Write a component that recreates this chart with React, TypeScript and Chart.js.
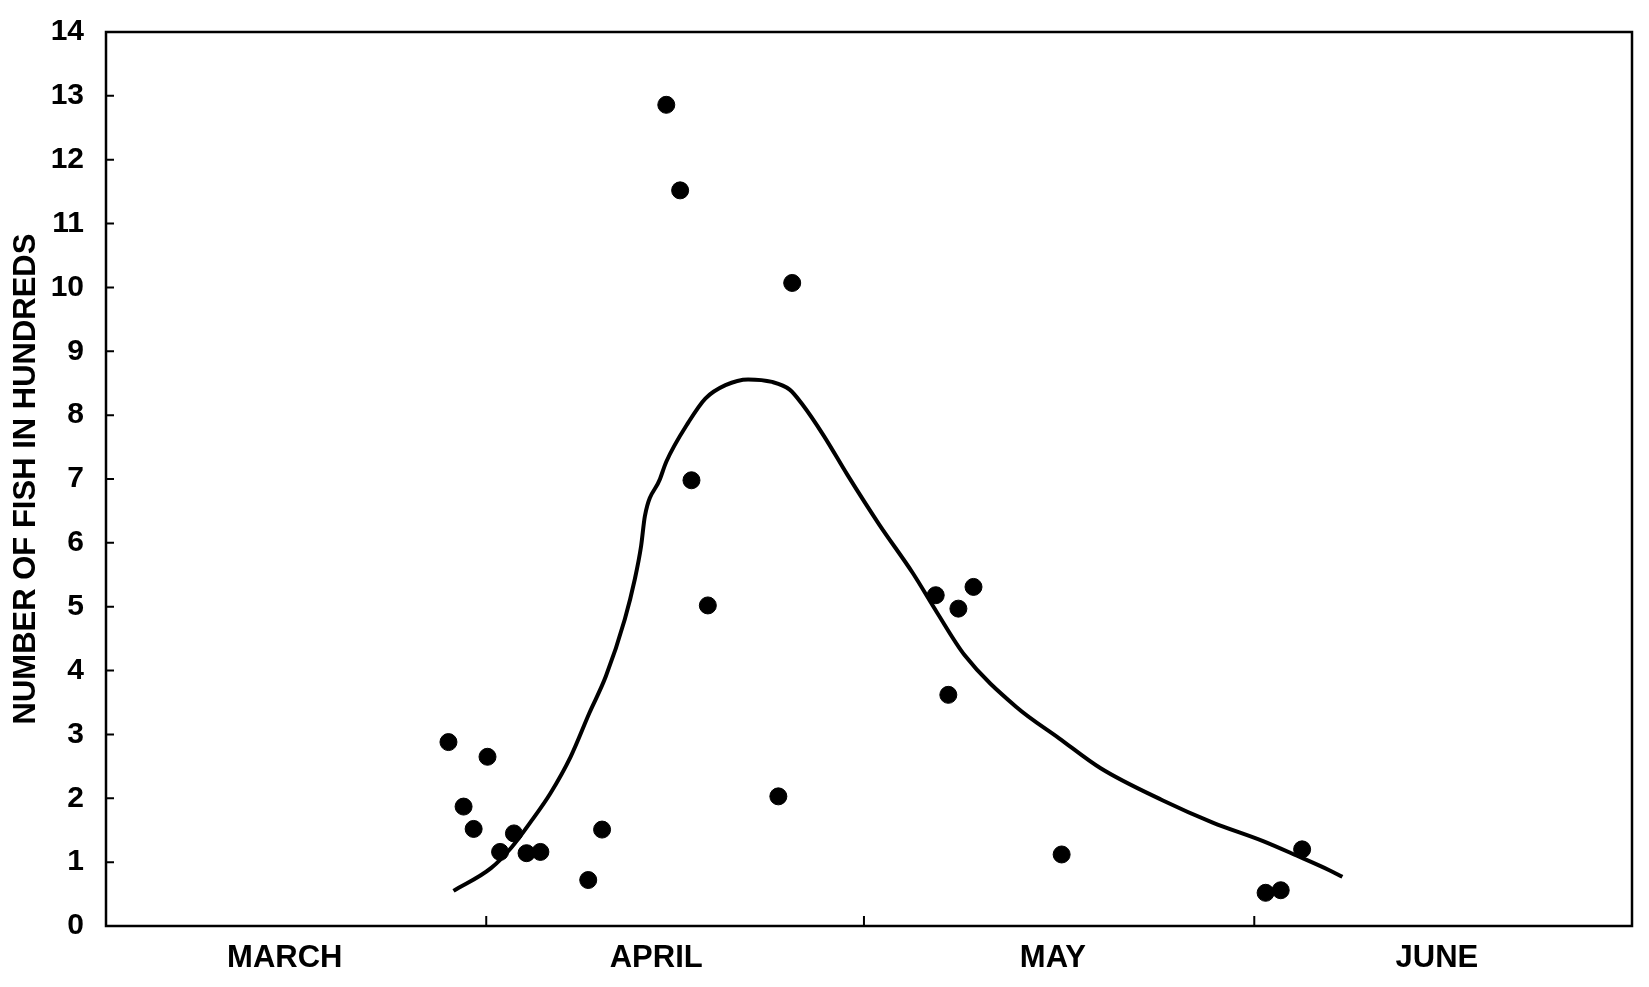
import React, { useEffect, useRef } from 'react';
import { Chart, registerables } from 'chart.js';

Chart.register(...registerables);

// Month labels (x axis, day counted from 1 March)
const MONTHS = ['MARCH', 'APRIL', 'MAY', 'JUNE'];
const MONTH_LABEL_DAYS = [15, 44.5, 76, 106.5];
const MONTH_BOUNDARY_DAYS = [31, 61, 92];
const Y_TICK_MARKS = [1, 2, 3, 4, 5, 6, 7, 8, 9, 10, 11, 12, 13];

// Observed catches (number of fish, hundreds)
const OBS_DAY = [28.0, 29.2, 30.0, 31.1, 32.1, 33.2, 34.2, 35.3, 39.1, 40.2, 45.3, 46.4, 47.3, 48.6, 54.2, 55.3, 66.7, 67.7, 68.5, 69.7, 76.7, 92.9, 94.1, 95.8];
const OBS_FISH = [2.88, 1.87, 1.52, 2.65, 1.16, 1.45, 1.14, 1.16, 0.72, 1.51, 12.86, 11.52, 6.98, 5.02, 2.03, 10.07, 5.18, 3.62, 4.97, 5.31, 1.12, 0.52, 0.56, 1.2];

// Fitted curve
const CURVE_DAY = [28.4, 31.4, 33.0, 34.6, 36.1, 37.7, 39.2, 40.5, 42.0, 42.8, 43.3, 43.6, 44.8, 45.3, 47.1, 48.4, 50.0, 51.8, 53.7, 55.1, 56.1, 57.8, 59.7, 62.2, 64.9, 66.8, 69.0, 73.1, 76.5, 79.8, 84.7, 88.7, 92.7, 95.4, 98.0, 99.0];
const CURVE_FISH = [0.55, 0.91, 1.23, 1.65, 2.08, 2.65, 3.34, 3.91, 4.8, 5.43, 5.95, 6.42, 7.0, 7.27, 7.9, 8.26, 8.47, 8.56, 8.52, 8.4, 8.17, 7.68, 7.06, 6.29, 5.52, 4.91, 4.24, 3.43, 2.94, 2.47, 1.97, 1.62, 1.33, 1.1, 0.87, 0.77];

const FONT = '"Liberation Sans", Arial, Helvetica, sans-serif';

const framePlugin = {
  id: 'frame',
  beforeDatasetsDraw(chart: any) {
    const { ctx, chartArea, scales } = chart;
    const { left, right, top, bottom } = chartArea;
    ctx.save();
    ctx.strokeStyle = '#000';
    ctx.lineWidth = 2.5;
    ctx.strokeRect(left, top, right - left, bottom - top);
    ctx.lineWidth = 2;
    ctx.beginPath();
    MONTH_BOUNDARY_DAYS.forEach((d) => {
      const px = scales.x.getPixelForValue(d);
      ctx.moveTo(px, bottom);
      ctx.lineTo(px, bottom - 10);
    });
    Y_TICK_MARKS.forEach((v) => {
      const py = scales.y.getPixelForValue(v);
      ctx.moveTo(left, py);
      ctx.lineTo(left + 8, py);
    });
    ctx.stroke();
    ctx.restore();
  },
};

export default function App() {
  const ref = useRef<HTMLCanvasElement>(null);
  useEffect(() => {
    const canvas = ref.current;
    if (!canvas) return;
    const chart = new Chart(canvas, {
      type: 'scatter',
      data: {
        datasets: [
          {
            label: 'curve',
            data: CURVE_DAY.map((x, i) => ({ x, y: CURVE_FISH[i] })),
            showLine: true,
            borderColor: '#000',
            borderWidth: 4,
            pointRadius: 0,
            fill: false,
            cubicInterpolationMode: 'monotone',
          } as any,
          {
            label: 'observed',
            data: OBS_DAY.map((x, i) => ({ x, y: OBS_FISH[i] })),
            backgroundColor: '#000',
            borderColor: '#000',
            borderWidth: 1,
            pointRadius: 8.5,
          },
        ],
      },
      options: {
        responsive: false,
        animation: false,
        layout: { padding: { left: 8, right: 17, top: 26, bottom: 0 } },
        plugins: { legend: { display: false }, tooltip: { enabled: false } },
        scales: {
          x: {
            type: 'linear',
            min: 0.8,
            max: 122,
            grid: { display: false },
            border: { display: false },
            afterBuildTicks: (s: any) => {
              s.ticks = MONTH_LABEL_DAYS.map((v) => ({ value: v }));
            },
            afterFit: (s: any) => {
              s.height = 61;
            },
            ticks: {
              autoSkip: false,
              maxRotation: 0,
              padding: 6,
              color: '#000',
              font: { family: FONT, size: 31, weight: 'bold' },
              callback: (v: any) => {
                const i = MONTH_LABEL_DAYS.indexOf(Number(v));
                return i >= 0 ? MONTHS[i] : '';
              },
            },
          },
          y: {
            type: 'linear',
            min: 0,
            max: 14,
            grid: { display: false },
            border: { display: false },
            afterFit: (s: any) => {
              s.width = 98;
            },
            ticks: {
              stepSize: 1,
              padding: 14,
              color: '#000',
              font: { family: FONT, size: 30, weight: 'bold' },
            },
            title: {
              display: true,
              text: 'NUMBER OF FISH IN HUNDREDS',
              color: '#000',
              padding: { top: 0, bottom: 0 },
              font: { family: FONT, size: 31, weight: 'bold' },
            },
          },
        },
      },
      plugins: [framePlugin],
    });
    return () => chart.destroy();
  }, []);
  return (
    <div style={{ position: 'absolute', left: 0, top: 0, width: 1649, height: 987, background: '#fff' }}>
      <canvas ref={ref} width={1649} height={987} style={{ display: 'block' }} />
    </div>
  );
}
